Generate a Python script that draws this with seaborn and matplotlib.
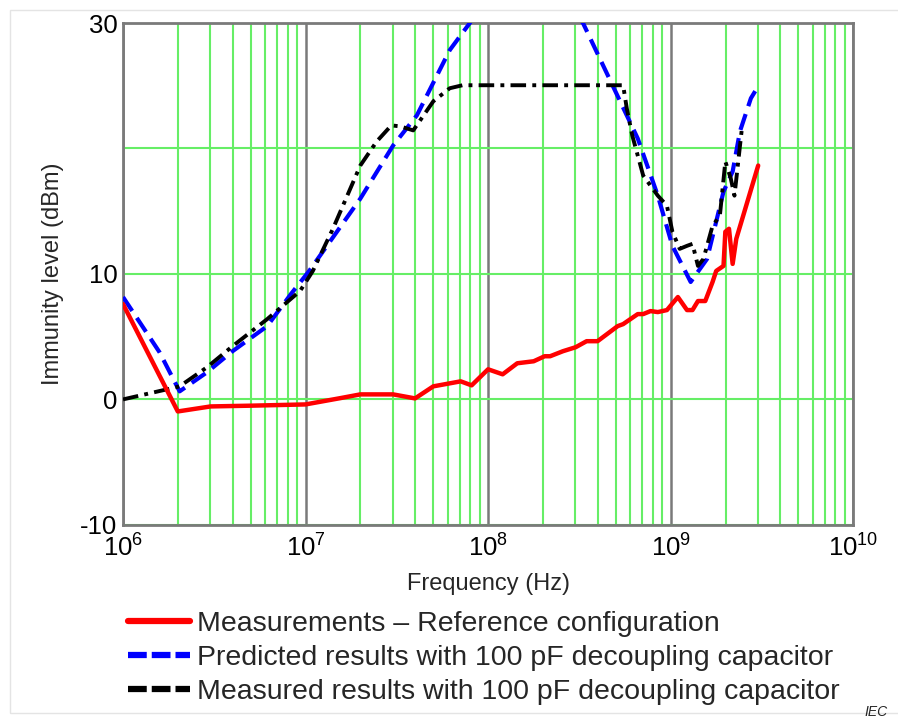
import numpy as np
import pandas as pd
import matplotlib
matplotlib.use('Agg')
import matplotlib.pyplot as plt
from matplotlib.lines import Line2D
from matplotlib.patches import Rectangle
from matplotlib.ticker import FixedLocator, NullFormatter
import seaborn as sns

# log10(frequency in Hz) and immunity level (dBm)
ref_logf = [6.00, 6.30, 6.48, 6.70, 7.00, 7.19, 7.30, 7.48, 7.60, 7.70, 7.79, 7.85, 7.91,
            8.00, 8.08, 8.16, 8.25, 8.31, 8.34, 8.41, 8.48, 8.54, 8.60, 8.71, 8.74,
            8.82, 8.85, 8.89, 8.93, 8.98, 9.04, 9.09, 9.12, 9.15, 9.19, 9.23, 9.25,
            9.29, 9.30, 9.32, 9.34, 9.36, 9.48]
ref_level = [7.6, -0.96, -0.56, -0.5, -0.4, 0.1, 0.4, 0.4, 0.08, 1.04, 1.28, 1.44, 1.12,
             2.4, 2.0, 2.88, 3.04, 3.44, 3.44, 3.84, 4.16, 4.64, 4.64, 5.84, 6.0,
             6.8, 6.8, 7.04, 6.96, 7.12, 8.16, 7.12, 7.12, 7.84, 7.84, 9.36, 10.24,
             10.64, 13.36, 13.6, 10.8, 12.8, 18.64]

pred_logf = [6.00, 6.20, 6.31, 6.46, 6.60, 6.79, 6.92, 7.02, 7.30, 7.48, 7.61, 7.79, 7.90,
             8.00, 8.40, 8.52, 8.67, 8.82, 8.93, 9.01, 9.11, 9.20, 9.29, 9.34, 9.38,
             9.44, 9.48]
pred_level = [8.16, 3.76, 0.64, 2.16, 3.84, 5.84, 8.4, 10.24, 16.0, 20.24, 22.64, 27.84, 30.0,
              32.0, 32.0, 30.0, 25.4, 20.8, 16.24, 12.24, 9.36, 11.2, 16.56, 18.16, 21.36,
              24.0, 24.96]

meas_logf = [6.00, 6.24, 6.31, 6.46, 6.60, 6.79, 6.97, 7.04, 7.15, 7.30, 7.39, 7.47, 7.52,
             7.59, 7.70, 7.79, 7.86, 8.74, 8.76, 8.79, 8.82, 8.85, 8.93, 8.98, 9.01,
             9.05, 9.09, 9.12, 9.15, 9.18, 9.23, 9.27, 9.30, 9.33, 9.35, 9.39]
meas_level = [0.0, 0.8, 1.04, 2.56, 4.24, 6.4, 8.64, 10.24, 13.6, 18.64, 20.56, 21.84, 21.76,
              21.44, 23.76, 24.8, 25.04, 25.04, 23.2, 21.04, 19.44, 17.84, 16.24, 15.44, 13.36,
              12.0, 12.24, 12.4, 10.64, 11.2, 13.84, 14.64, 18.96, 17.6, 16.24, 21.5]

labels = ['Measurements \u2013 Reference configuration',
          'Predicted results with 100 pF decoupling capacitor',
          'Measured results with 100 pF decoupling capacitor']

df_ref = pd.DataFrame({'f': 10 ** np.array(ref_logf), 'level': ref_level})
df_pred = pd.DataFrame({'f': 10 ** np.array(pred_logf), 'level': pred_level})
df_meas = pd.DataFrame({'f': 10 ** np.array(meas_logf), 'level': meas_level})

sns.set_style('white')
plt.rcParams['font.family'] = ['Liberation Sans', 'DejaVu Sans']
plt.rcParams['mathtext.fontset'] = 'custom'
plt.rcParams['mathtext.rm'] = 'Liberation Sans'
plt.rcParams['mathtext.default'] = 'regular'
plt.rcParams['axes.unicode_minus'] = False

fig = plt.figure(figsize=(8.98, 7.19), dpi=100)
ax = fig.add_axes([0.137, 0.270, 0.813, 0.698])

grid_green = '#66ee66'
spine_gray = '#7a7a7a'

sns.lineplot(data=df_ref, x='f', y='level', ax=ax, color='#ff0000', lw=3.2,
             sort=False, estimator=None, zorder=5)
sns.lineplot(data=df_pred, x='f', y='level', ax=ax, color='#0000ff', lw=3.0,
             sort=False, estimator=None, zorder=4, dashes=False)
sns.lineplot(data=df_meas, x='f', y='level', ax=ax, color='black', lw=2.8,
             sort=False, estimator=None, zorder=4, dashes=False)
ax.lines[1].set_dashes([4, 2])
ax.lines[2].set_dashes([4, 1.6, 1, 1.6])

ax.set_xscale('log')
ax.set_xlim(1e6, 1e10)
ax.set_ylim(-10, 30)

ax.set_xticks([1e6, 1e7, 1e8, 1e9, 1e10])
ax.set_xticklabels([r'$10^{6}$', r'$10^{7}$', r'$10^{8}$', r'$10^{9}$', r'$10^{10}$'])
ax.xaxis.set_minor_locator(FixedLocator(
    [d * 10 ** e for e in range(6, 10) for d in range(2, 10)]))
ax.xaxis.set_minor_formatter(NullFormatter())
ax.set_yticks([-10, 0, 10, 30])
ax.yaxis.set_minor_locator(FixedLocator([20]))

ax.grid(True, which='major', axis='x', color=spine_gray, lw=1.8, zorder=1)
ax.grid(True, which='minor', axis='x', color=grid_green, lw=1.5, zorder=1)
ax.grid(True, which='both', axis='y', color=grid_green, lw=1.5, zorder=1)
ax.set_axisbelow(True)

for s in ax.spines.values():
    s.set_color(spine_gray)
    s.set_linewidth(2)
    s.set_zorder(2)

ax.tick_params(axis='both', which='both', length=0, labelsize=18.5, pad=4, colors='black')
ax.tick_params(axis='x', pad=7)

ax.set_xlabel('Frequency (Hz)', fontsize=17, labelpad=8)
ax.set_ylabel('Immunity level (dBm)', fontsize=17, labelpad=12)

handles = [Line2D([], [], color='#ff0000', lw=4.5),
           Line2D([], [], color='#0000ff', lw=4.5, dashes=[3, 0.8]),
           Line2D([], [], color='black', lw=4.5, dashes=[3, 0.8])]
fig.legend(handles, labels, loc='upper left', bbox_to_anchor=(0.142, 0.150),
           frameon=False, fontsize=20.5, handlelength=2.2, handletextpad=0.25,
           labelspacing=0.27, borderaxespad=0, borderpad=0)

# faint page frame and source tag
fig.patches.append(Rectangle((0.011, 0.008), 1.2, 0.978, transform=fig.transFigure,
                             fill=False, edgecolor='#e4e4e4', lw=1))
fig.text(0.963, 0.0, 'IEC', fontsize=10, style='italic', va='bottom', ha='left')

fig.savefig('out.png', dpi=100)
